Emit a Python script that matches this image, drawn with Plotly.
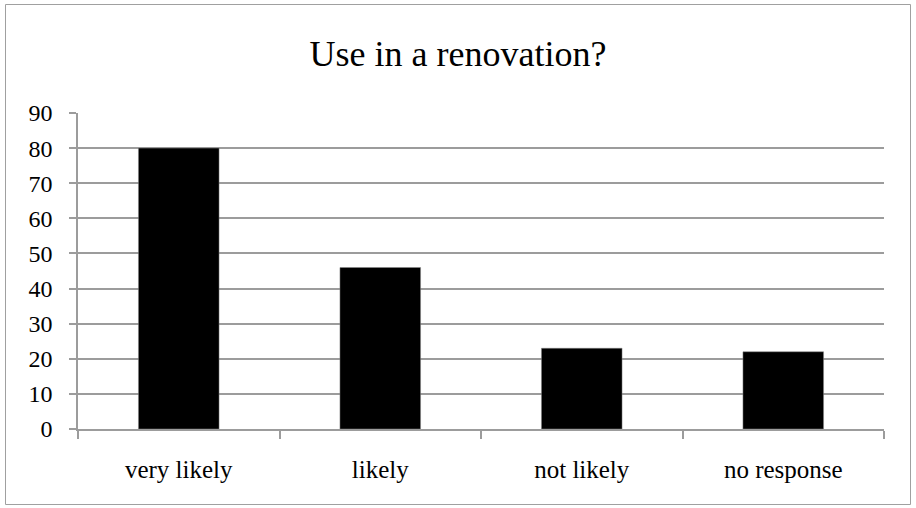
import plotly.graph_objects as go

categories = ["very likely", "likely", "not likely", "no response"]
values = [80, 46, 23, 22]
y_ticks = [0, 10, 20, 30, 40, 50, 60, 70, 80, 90]

FONT = "Liberation Serif"
GRID = "#9c9c9c"

fig = go.Figure()
fig.add_trace(go.Bar(
    x=categories, y=values,
    marker=dict(color="black", line=dict(width=0.5, color="#888888")),
    width=0.4,
))

fig.update_layout(
    width=916, height=508,
    margin=dict(l=78, r=32, t=113, b=79),
    paper_bgcolor="white", plot_bgcolor="white",
    showlegend=False,
    font=dict(family=FONT, color="black", size=22),
    title=dict(text="Use in a renovation?", x=0.5, xanchor="center",
               y=1 - 53 / 508, yanchor="middle",
               font=dict(family=FONT, size=36, color="black")),
    xaxis=dict(
        showgrid=False, showline=True, linecolor=GRID, linewidth=1.5,
        ticks="outside", ticklen=8, tickcolor=GRID, tickwidth=1.5,
        tickson="boundaries", ticklabelstandoff=17,
        tickfont=dict(family=FONT, size=25, color="black"),
        range=[-0.5, 3.5],
    ),
    yaxis=dict(
        range=[0, 90], tickvals=y_ticks,
        showgrid=True, gridcolor=GRID, gridwidth=1.5,
        showline=True, linecolor=GRID, linewidth=1.5,
        ticks="outside", ticklen=7, tickcolor=GRID, tickwidth=1.5,
        ticklabelstandoff=12, zeroline=False,
        tickfont=dict(family=FONT, size=24, color="black"),
    ),
    shapes=[dict(type="rect", xref="paper", yref="paper",
                 x0=(5.5 - 78) / 806, x1=(910.5 - 78) / 806,
                 y0=(429 - 504.5) / 316, y1=(429 - 4.5) / 316,
                 line=dict(color="#a0a0a0", width=1), layer="below")],
)

fig.write_html("out.html", config={"displayModeBar": False},
               post_script="document.body.style.margin='0';document.body.style.overflow='hidden';")
